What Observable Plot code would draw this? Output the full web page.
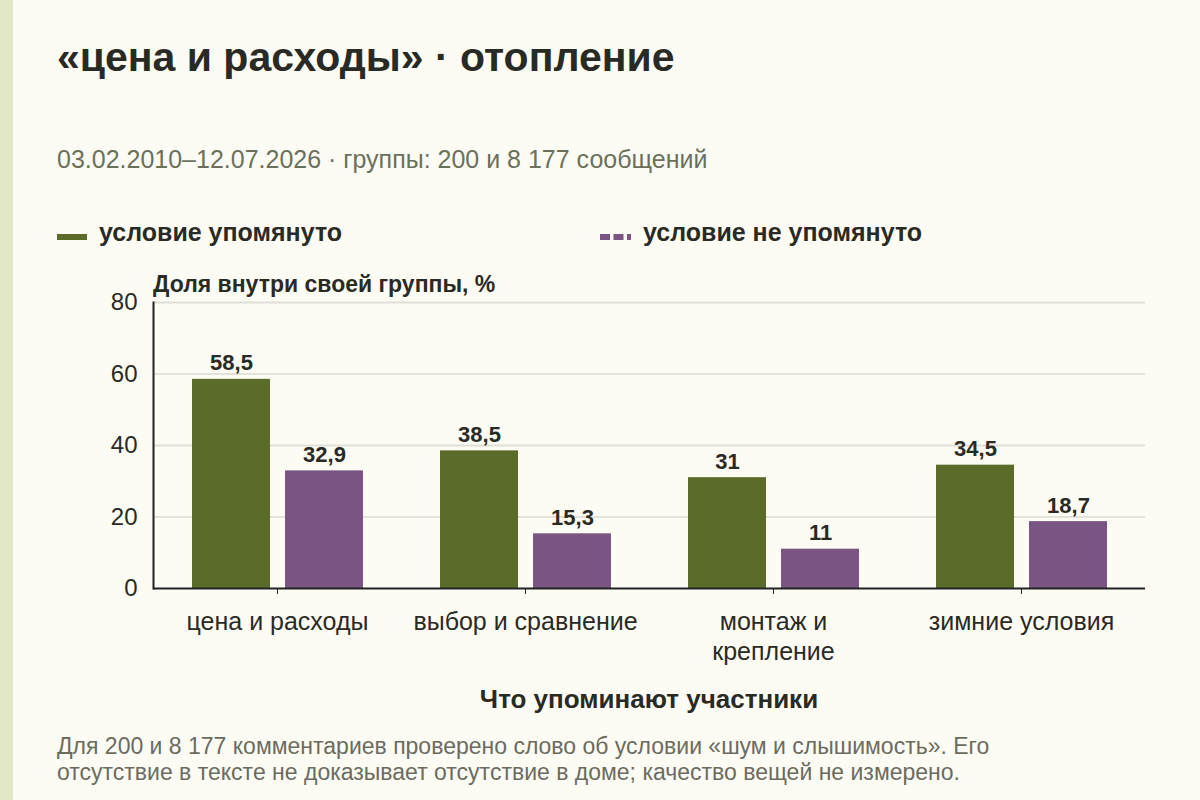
<!DOCTYPE html>
<html><head><meta charset="utf-8">
<script src="https://cdn.jsdelivr.net/npm/d3@7"></script>
<script src="https://cdn.jsdelivr.net/npm/@observablehq/plot@0.6"></script>
<style>
html,body{margin:0;padding:0;}
body{width:1200px;height:800px;background:#fdfcf4;position:relative;overflow:hidden;font-family:"Liberation Sans",Arial,sans-serif;color:#2a2a25;}
#strip{position:absolute;left:0;top:0;width:13px;height:800px;background:#e2e7c5;}
.abs{position:absolute;line-height:1;white-space:nowrap;}
#title{left:57px;top:37px;font-size:41px;font-weight:bold;}
#subtitle{left:57px;top:147px;font-size:25px;color:#6b705c;}
.leg{top:220px;font-size:25px;font-weight:bold;}
#ylab{left:153px;top:273px;font-size:23px;font-weight:bold;}
#chart{position:absolute;left:0;top:262px;}
#xlab{left:0;width:1298px;text-align:center;top:686px;font-size:26px;font-weight:bold;}
#caption{position:absolute;left:57px;top:733px;font-size:23px;line-height:26px;color:#6b6b60;width:1040px;}
</style></head>
<body>
<div id="strip"></div>
<div id="title" class="abs"></div>
<div id="subtitle" class="abs"></div>
<svg class="abs" style="left:57px;top:230px" width="31" height="14"><line x1="0" x2="30" y1="7" y2="7" stroke="#5b6c2a" stroke-width="6"/></svg>
<div id="leg1" class="abs leg" style="left:99px"></div>
<svg class="abs" style="left:600px;top:230px" width="31" height="14"><line x1="0" x2="31" y1="7" y2="7" stroke="#7a5482" stroke-width="6" stroke-dasharray="10 3.5"/></svg>
<div id="leg2" class="abs leg" style="left:643px"></div>
<div id="ylab" class="abs"></div>
<div id="chart"></div>
<div id="xlab" class="abs"></div>
<div id="caption"></div>
<script>
const titleText = "«цена и расходы» · отопление";
const subtitleText = "03.02.2010–12.07.2026 · группы: 200 и 8 177 сообщений";
const yLabelText = "Доля внутри своей группы, %";
const xLabelText = "Что упоминают участники";
const captionLines = ["Для 200 и 8 177 комментариев проверено слово об условии «шум и слышимость». Его", "отсутствие в тексте не доказывает отсутствие в доме; качество вещей не измерено."];

const categories = ["цена и расходы","выбор и сравнение","монтаж и крепление","зимние условия"];
const tickLabels = ["цена и расходы","выбор и сравнение","монтаж и\nкрепление","зимние условия"];
const seriesNames = ["условие упомянуто","условие не упомянуто"];
const mentioned = [58.5, 38.5, 31, 34.5];
const notMentioned = [32.9, 15.3, 11, 18.7];
const yTicks = [0, 20, 40, 60, 80];
const majorGrid = [40, 80];
const minorGrid = [20, 60];

const colors = ["#5b6c2a", "#7a5482"];

document.getElementById("title").textContent = titleText;
document.getElementById("subtitle").textContent = subtitleText;
document.getElementById("leg1").textContent = seriesNames[0];
document.getElementById("leg2").textContent = seriesNames[1];
document.getElementById("ylab").textContent = yLabelText;
document.getElementById("xlab").textContent = xLabelText;
const cap = document.getElementById("caption");
captionLines.forEach(l => { const d = document.createElement("div"); d.style.whiteSpace = "nowrap"; d.textContent = l; cap.appendChild(d); });

const dataA = categories.map((c, i) => ({cat: c, value: mentioned[i]}));
const dataB = categories.map((c, i) => ({cat: c, value: notMentioned[i]}));
const fmt = d => String(d).replace(".", ",");

const chart = Plot.plot({
  width: 1200,
  height: 400,
  marginLeft: 153,
  marginRight: 55,
  marginTop: 40,
  marginBottom: 74,
  style: {background: "transparent", fontFamily: "'Liberation Sans', Arial, sans-serif", color: "#2a2a25", overflow: "visible"},
  x: {domain: categories, padding: 0},
  y: {domain: [0, 80]},
  marks: [
    Plot.ruleY(minorGrid, {stroke: "#c9c9c0", strokeWidth: 1}),
    Plot.ruleY(majorGrid, {stroke: "#e0dfd7", strokeWidth: 2}),
    Plot.barY(dataA, {x: "cat", y: "value", fill: colors[0], insetLeft: 39, insetRight: 131}),
    Plot.barY(dataB, {x: "cat", y: "value", fill: colors[1], insetLeft: 132, insetRight: 38}),
    Plot.text(dataA, {x: "cat", y: "value", text: d => fmt(d.value), dx: -46, dy: -16, fontSize: 22, fontWeight: "bold", fill: "#2a2a25"}),
    Plot.text(dataB, {x: "cat", y: "value", text: d => fmt(d.value), dx: 47, dy: -16, fontSize: 22, fontWeight: "bold", fill: "#2a2a25"}),
    Plot.ruleY([0], {stroke: "#222", strokeWidth: 2}),
    Plot.frame({anchor: "left", stroke: "#222", strokeWidth: 2}),
    Plot.axisY({ticks: yTicks, tickSize: 0, tickPadding: 16, fontSize: 24, label: null, tickFormat: d => String(d)}),
    Plot.axisX({tickSize: 6, tickPadding: 15, fontSize: 25, label: null, lineHeight: 1.17, tickFormat: d => tickLabels[categories.indexOf(d)]})
  ]
});
document.getElementById("chart").appendChild(chart);
</script>
</body></html>
